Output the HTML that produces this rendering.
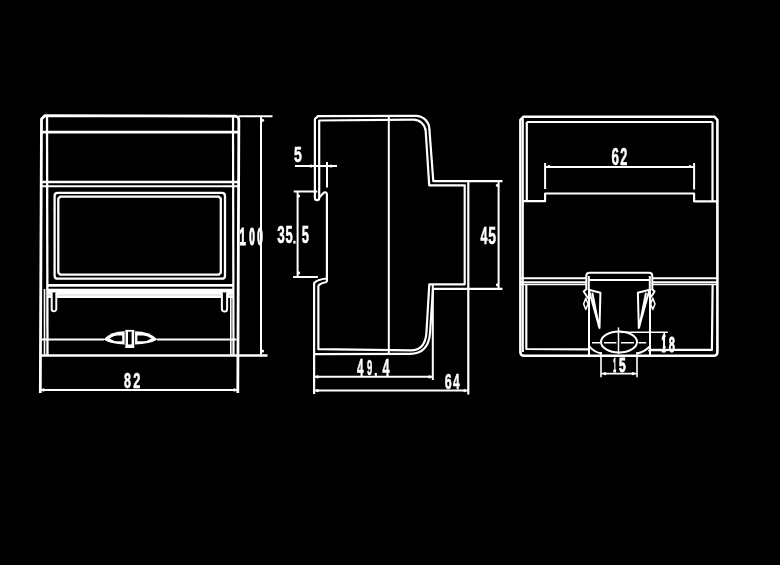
<!DOCTYPE html>
<html><head><meta charset="utf-8">
<style>
html,body{margin:0;padding:0;background:#000;width:780px;height:565px;overflow:hidden}
svg{display:block;will-change:transform}
text{font-family:"Liberation Sans",sans-serif;font-weight:bold;fill:#fff;stroke:#fff}
</style></head><body>
<svg width="780" height="565" viewBox="0 0 780 565">
<rect width="780" height="565" fill="#000"/>
<g fill="none" stroke="#fff" stroke-linejoin="round" stroke-linecap="butt">
<!-- ============ LEFT VIEW ============ -->
<path d="M40.3,393 L41.5,119 L45,115.6 L235,116.2 Q238.85,116.4 238.85,120.2 L237.8,393" stroke-width="2.8"/>
<path d="M47,115.8 L47.5,355.5" stroke-width="2.3"/>
<path d="M233,116.3 L233.5,355.5" stroke-width="2.2"/>
<path d="M44.5,289 L44.5,355 M230.8,289 L230.8,355" stroke-width="1.6"/>
<path d="M41.5,132.1 L238.6,132.1" stroke-width="2.6"/>
<path d="M41.5,182 L238.3,182" stroke-width="2.3"/>
<path d="M41.5,186.2 L238.3,186.2" stroke-width="2"/>
<path d="M57.6,192.9 L222,192.9 Q225,192.9 225,195.9 L225,275.7 Q225,278.7 222,278.7 L57.6,278.7 Q54.6,278.7 54.6,275.7 L54.6,195.9 Q54.6,192.9 57.6,192.9 Z" stroke-width="2.3"/>
<path d="M60.3,196.6 L218.8,196.6 L220.8,198.6 L220.8,272.6 L218.8,274.6 L60.3,274.6 L58.3,272.6 L58.3,198.6 Z" stroke-width="2.3"/>
<path d="M47,285.3 L233,285.3" stroke-width="2.8"/>
<rect x="47" y="288.7" width="186" height="9.3" fill="#fff" stroke="none"/>
<path d="M47,295 L233,295" stroke="#c8c8c8" stroke-width="0.8"/>
<path d="M51.7,292.5 L51.7,309 A2.3,2.3 0 0 0 56.3,309 L56.3,292.5 M221.9,292.5 L221.9,309 A2.6,2.6 0 0 0 227.1,309 L227.1,292.5" stroke-width="2" fill="#000"/>
<path d="M41,339.6 L104,339.6 M157,339.6 L236.5,339.6" stroke-width="2"/>
<path d="M40.3,355.5 L267.5,355.5" stroke-width="2.4"/>
<!-- latch -->
<path d="M103.5,339.6 Q111,331.2 125,331.3 L125,344.4 Q111,344.5 103.5,339.6 Z" fill="#fff" stroke="none"/>
<path d="M109.5,338.4 Q114,335.6 117,335.4 L122.2,335.4 L122.2,341.3 L117,341.3 Q114,341.2 109.5,338.4 Z" fill="#000" stroke="none"/>
<path d="M157.4,339.6 Q149.5,331.2 134.6,331.3 L134.6,344.4 Q149.5,344.5 157.4,339.6 Z" fill="#fff" stroke="none"/>
<path d="M151.5,338.4 Q147,335.6 143,335.4 L137.4,335.4 L137.4,341.3 L143,341.3 Q147,341.2 151.5,338.4 Z" fill="#000" stroke="none"/>
<rect x="125.3" y="329.9" width="9" height="18.1" fill="#fff" stroke="none"/>
<rect x="128" y="331.7" width="3.6" height="12.7" fill="#000" stroke="none"/>
<path d="M125,331.5 L125,344.5 M134.6,331.5 L134.6,344.5" stroke="#000" stroke-width="0.7"/>
<!-- dim 100 -->
<path d="M238.85,116.2 L272.5,116.2 M261,117 L261,354.5" stroke-width="2"/>
<!-- dim 82 -->
<path d="M40.3,389.9 L237.8,389.9" stroke-width="2"/>

<!-- ============ MIDDLE VIEW ============ -->
<g stroke-width="2.2">
<path d="M314.9,198 L314.9,119 L318,116.1 L416,115.8 A13.6,13.6 0 0 1 429.4,129.4 L433.3,181.2 L502.5,181.2"/>
<path d="M468.3,181.2 L468.3,394.5 M468.3,288.8 L502.5,288.8"/>
<path d="M468.3,288.8 L433,288.8 L430,333 Q428.5,353.8 410,353.8 L314.1,354.2"/>
<path d="M314.1,282.7 L314.1,394"/>
<path d="M319.2,198 L319.2,120.5 L413.4,119.7 A12.3,12.3 0 0 1 425.7,131.2 L429.2,185.3 L464.7,185.3 L464.7,284.3 L429.3,284.3 L426.4,333 Q425,350.4 411,350.4 L318.35,349.2 L318.35,285.6"/>
<path d="M314.9,198 A2.15,2.15 0 0 0 319.2,198 M319.2,197.5 L324,192.5 Q326.9,191.5 326.9,195 L326.9,282"/>
<path d="M314.1,283 Q317,279.5 326.9,278.5 M318.35,285.6 Q321,283 326.9,282"/>
</g>
<path d="M388.8,116 L388.8,353.8" stroke-width="2"/>
<!-- dim 5 -->
<path d="M295,166 L337,166 M327,162 L327,187.5" stroke-width="2"/>
<!-- dim 35.5 -->
<path d="M293.7,191.5 L317.3,191.5 M293.1,276.9 L317.9,276.9 M297.6,191.5 L297.6,276.9" stroke-width="2"/>
<!-- dim 45 -->
<path d="M498.6,181.2 L498.6,288.8" stroke-width="2"/>
<!-- dim 49.4 -->
<path d="M432.8,284.3 L432.8,380 M314.1,376.8 L432.8,376.8" stroke-width="2"/>
<!-- dim 64 -->
<path d="M314.1,390.6 L468.3,390.6" stroke-width="2"/>

<!-- ============ RIGHT VIEW ============ -->
<path d="M520.4,352 L520.4,120 L523.6,116.7 L714.3,116.7 L717.4,119.8 L717.4,352 Q717.4,355.8 713.6,355.8 L524.2,355.8 Q520.4,355.8 520.4,352" stroke-width="2.6"/>
<path d="M522.9,119 L522.9,352" stroke-width="1.9"/>
<path d="M526.8,122 L712.5,122 M526.8,122 L526.8,201.2 M712.5,122 L712.5,201.3" stroke-width="2.2"/>
<path d="M522.6,201.2 L545.1,201.2 L545.1,193.5 L694.1,193.5 L694.1,201.3 L717,201.3" stroke-width="2.2"/>
<path d="M545.1,163 L545.1,189 M694.1,163 L694.1,189.6 M545.1,167 L694.1,167" stroke-width="2"/>
<path d="M521,278.2 L586.3,278.2 M652.3,278.2 L717,278.2" stroke-width="2"/>
<path d="M521,282.2 L586.5,282.2 M651.8,282.2 L717,282.2 M521,284.4 L586.5,284.4 M651.8,284.4 L717,284.4" stroke-width="1.8"/>
<path d="M526.3,285 L526.3,349 L589,349.3 M650.2,349.9 L711.9,349.9 L712.6,284.6" stroke-width="2.2"/>
<!-- clip -->
<g stroke-width="2">
<path d="M586.3,290 L586.3,276 Q586.3,272.8 589.5,272.8 L649,272.8 Q652.3,272.8 652.3,276 L652.3,290"/>
<path d="M588.8,280 L649.8,280 M588.8,276 L588.8,290 M649.8,276 L649.8,290"/>
<path d="M589,289 L589,355.8 M650,289 L650,355.8"/>
<path d="M586.5,289 L583.7,291.5 L588.3,298.5 M588.8,289.8 L600.4,292.7 L599.5,328 L588.8,289.8 M592.3,292.7 L599,327"/>
<path d="M651.8,289 L654.6,291.5 L650,298.5 M649.5,289.8 L637.9,292.7 L638.8,328 L649.5,289.8 M646,292.7 L639.3,327"/>
<path d="M583.6,304 L585.8,298.3 L588,304 L585.8,309.5 Z M655,304 L652.8,298.3 L650.6,304 L652.8,309.5 Z" stroke-width="1.5"/>
<ellipse cx="619" cy="342.05" rx="18" ry="10.5"/>
<path d="M592,342.8 L600,342.8 M604,342.8 L616.4,342.8 M621,342.8 L634,342.8 M638.5,342.8 L646.2,342.8" stroke-width="1.5"/>
<path d="M618.5,327.4 L618.5,354" stroke-width="1.5"/>
<path d="M589.5,346.5 Q594,352.2 601.5,353.4 M649.7,346.5 Q644,352.2 636.9,353.4"/>
</g>
<!-- dim 18 -->
<path d="M620.5,332.3 L667.8,332.3 M648,350.5 L667.8,350.5 M664.2,332.3 L664.2,350.5" stroke-width="1.6"/>
<!-- dim 15 -->
<path d="M601,352 L601,377.2 M637,352 L637,377.2 M601,373.6 L637,373.6" stroke-width="1.6"/>
</g>
<g fill="#fff" stroke="none"><circle cx="262.5" cy="120.3" r="1.6"/><circle cx="262.5" cy="351" r="1.6"/><circle cx="497.5" cy="185.3" r="1.6"/><circle cx="497.5" cy="284.8" r="1.6"/><circle cx="311" cy="166" r="1.6"/><circle cx="331" cy="166" r="1.6"/><circle cx="298.5" cy="196" r="1.6"/><circle cx="298.5" cy="272.9" r="1.6"/><circle cx="43.5" cy="389.9" r="1.6"/><circle cx="234.5" cy="389.9" r="1.6"/><circle cx="317.5" cy="376.8" r="1.6"/><circle cx="429.5" cy="376.8" r="1.6"/><circle cx="317.5" cy="390.6" r="1.6"/><circle cx="464.7" cy="390.6" r="1.6"/><circle cx="549" cy="166.5" r="1.6"/><circle cx="690" cy="166.5" r="1.6"/><circle cx="664.2" cy="336" r="1.6"/><circle cx="664.2" cy="347" r="1.6"/><circle cx="605" cy="373.6" r="1.6"/><circle cx="633" cy="373.6" r="1.6"/></g>

<g fill="#fff">
<text transform="translate(239.47,245.05) scale(0.474,1)" font-size="23.77" stroke-width="0.9" vector-effect="non-scaling-stroke">1</text>
<text transform="translate(249.15,244.82) scale(0.433,1)" font-size="23.10" stroke-width="0.9" vector-effect="non-scaling-stroke">0</text>
<text transform="translate(257.35,244.82) scale(0.433,1)" font-size="23.10" stroke-width="0.9" vector-effect="non-scaling-stroke">0</text>
<text transform="translate(124.05,388.05) scale(0.567,1)" font-size="22.04" stroke-width="0.45" vector-effect="non-scaling-stroke">8</text>
<text transform="translate(133.24,388.27) scale(0.571,1)" font-size="22.36" stroke-width="0.45" vector-effect="non-scaling-stroke">2</text>
<text transform="translate(294.00,161.65) scale(0.631,1)" font-size="22.36" stroke-width="0.45" vector-effect="non-scaling-stroke">5</text>
<text transform="translate(277.36,243.14) scale(0.572,1)" font-size="23.59" stroke-width="0.45" vector-effect="non-scaling-stroke">3</text>
<text transform="translate(285.44,243.14) scale(0.539,1)" font-size="23.93" stroke-width="0.45" vector-effect="non-scaling-stroke">5</text>
<rect x="293.30" y="240.80" width="2.3000000000000114" height="2.799999999999983"/>
<text transform="translate(301.64,243.14) scale(0.539,1)" font-size="23.93" stroke-width="0.45" vector-effect="non-scaling-stroke">5</text>
<text transform="translate(480.50,244.08) scale(0.512,1)" font-size="24.42" stroke-width="0.45" vector-effect="non-scaling-stroke">4</text>
<text transform="translate(488.21,243.83) scale(0.577,1)" font-size="24.07" stroke-width="0.45" vector-effect="non-scaling-stroke">5</text>
<text transform="translate(357.11,375.57) scale(0.502,1)" font-size="23.41" stroke-width="0.45" vector-effect="non-scaling-stroke">4</text>
<text transform="translate(366.94,375.35) scale(0.417,1)" font-size="22.75" stroke-width="0.45" vector-effect="non-scaling-stroke">9</text>
<rect x="374.70" y="373.00" width="2.1999999999999886" height="2.8000000000000114"/>
<text transform="translate(382.50,375.57) scale(0.542,1)" font-size="23.41" stroke-width="0.45" vector-effect="non-scaling-stroke">4</text>
<text transform="translate(444.73,389.16) scale(0.577,1)" font-size="21.48" stroke-width="0.45" vector-effect="non-scaling-stroke">6</text>
<text transform="translate(453.11,389.38) scale(0.540,1)" font-size="22.10" stroke-width="0.45" vector-effect="non-scaling-stroke">4</text>
<text transform="translate(611.49,164.74) scale(0.566,1)" font-size="23.73" stroke-width="0.45" vector-effect="non-scaling-stroke">6</text>
<text transform="translate(620.14,164.97) scale(0.530,1)" font-size="24.07" stroke-width="0.45" vector-effect="non-scaling-stroke">2</text>
<text transform="translate(661.52,351.75) scale(0.306,1)" font-size="23.62" stroke-width="0.7" vector-effect="non-scaling-stroke">1</text>
<text transform="translate(668.82,351.52) scale(0.479,1)" font-size="22.96" stroke-width="0.7" vector-effect="non-scaling-stroke">8</text>
<text transform="translate(613.34,371.75) scale(0.248,1)" font-size="20.58" stroke-width="0.7" vector-effect="non-scaling-stroke">1</text>
<text transform="translate(618.99,371.55) scale(0.592,1)" font-size="20.29" stroke-width="0.7" vector-effect="non-scaling-stroke">5</text>
</g>
</svg>
</body></html>
